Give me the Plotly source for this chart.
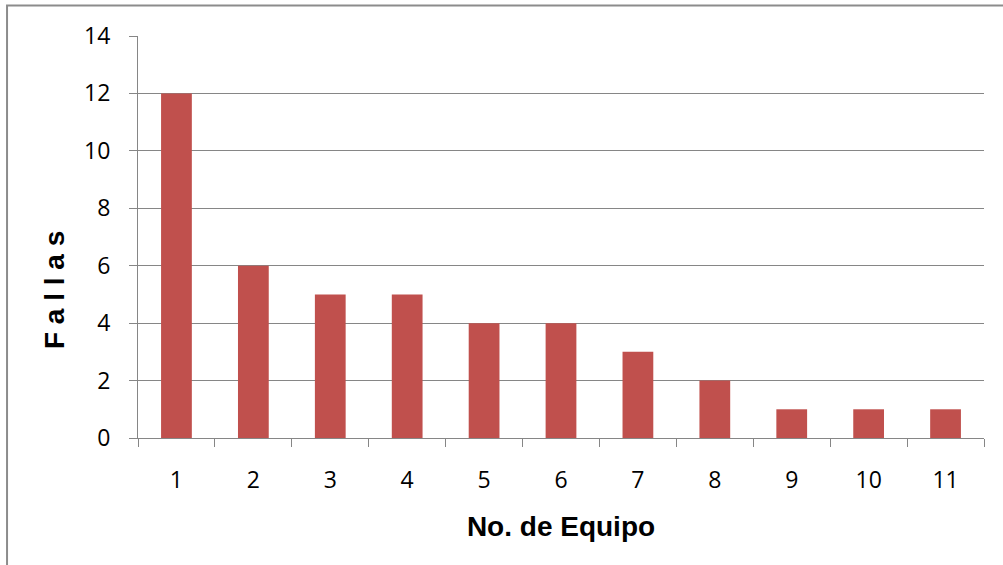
import plotly.graph_objects as go

# Failures per equipment unit
equipos = ["1", "2", "3", "4", "5", "6", "7", "8", "9", "10", "11"]
fallas = [12, 6, 5, 5, 4, 4, 3, 2, 1, 1, 1]
y_ticks = [0, 2, 4, 6, 8, 10, 12, 14]

BAR = "#C0504D"
GRID = "#868686"
TITLE_FONT = dict(size=28, family="Liberation Sans", weight="bold", color="black")

fig = go.Figure(
    go.Bar(x=equipos, y=fallas, marker=dict(color=BAR, line=dict(width=0)))
)

fig.update_layout(
    width=1003,
    height=565,
    margin=dict(l=138, r=19, t=36, b=127),
    paper_bgcolor="white",
    plot_bgcolor="white",
    bargap=0.6,
    showlegend=False,
    font=dict(family="Open Sans", color="black"),
    xaxis=dict(
        type="category",
        tickson="boundaries",
        showgrid=False,
        showline=True,
        linecolor=GRID,
        linewidth=1,
        ticks="outside",
        ticklen=8,
        tickcolor=GRID,
        tickfont=dict(size=23, family="Open Sans"),
        ticklabelstandoff=21,
        title=dict(text="No. de Equipo", font=TITLE_FONT, standoff=22),
    ),
    yaxis=dict(
        range=[0, 14],
        tickvals=y_ticks,
        showgrid=True,
        gridcolor=GRID,
        gridwidth=1,
        zeroline=False,
        showline=True,
        linecolor=GRID,
        linewidth=1,
        ticks="outside",
        ticklen=8,
        tickcolor=GRID,
        tickfont=dict(size=23, family="Open Sans"),
        ticklabelstandoff=14,
    ),
    annotations=[
        dict(
            text="F a l l a s",
            xref="paper",
            yref="paper",
            x=-0.0993,
            y=0.368,
            xanchor="center",
            yanchor="middle",
            textangle=-90,
            showarrow=False,
            font=TITLE_FONT,
        )
    ],
    shapes=[
        dict(
            type="rect",
            xref="paper",
            yref="paper",
            x0=-0.1548,
            x1=1.1,
            y0=-0.5,
            y1=1.076,
            line=dict(color="#8C8C8C", width=2),
            fillcolor="rgba(0,0,0,0)",
            layer="below",
        )
    ],
)

fig.write_html("out.html")
